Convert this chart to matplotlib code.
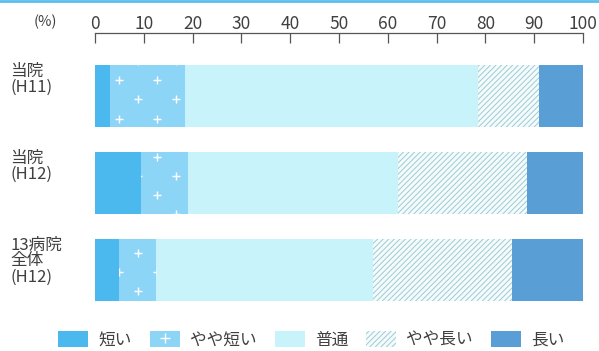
import numpy as np
import matplotlib
matplotlib.use("Agg")
import matplotlib.pyplot as plt
from matplotlib.patches import Patch
from matplotlib.lines import Line2D
from matplotlib.transforms import blended_transform_factory

plt.rcParams['font.family'] = ['Noto Sans CJK JP', 'DejaVu Sans']
plt.rcParams['hatch.linewidth'] = 0.7

groups = ["当院\n(H11)", "当院\n(H12)", "13病院\n全体\n(H12)"]
categories = ["短い", "やや短い", "普通", "やや長い", "長い"]
shares = {
    "短い":     [3.0, 9.5, 5.0],
    "やや短い": [15.5, 9.5, 7.5],
    "普通":     [60.0, 43.0, 44.5],
    "やや長い": [12.5, 26.5, 28.5],
    "長い":     [9.0, 11.5, 14.5],
}
ticks = list(range(0, 101, 10))

colors = {
    "短い": "#4cb9ee",
    "やや短い": "#8dd5f6",
    "普通": "#c9f3fb",
    "やや長い": "#f4fbfc",
    "長い": "#5a9ed6",
}
text_color = "#404040"
bar_h = 0.71

fig = plt.figure(figsize=(5.99, 3.51), dpi=100)
fig.patch.set_facecolor("white")
ax = fig.add_axes([95 / 599, 1 - 310 / 351, (583 - 95) / 599, (310 - 33) / 351])

ypos = np.arange(len(groups))
left = np.zeros(len(groups))
bars = {}
for cat in categories:
    vals = np.array(shares[cat])
    if cat == "やや長い":
        b = ax.barh(ypos, vals, left=left, height=bar_h, color=colors[cat],
                    edgecolor="#9fcad3", linewidth=0, hatch="//////")
    else:
        b = ax.barh(ypos, vals, left=left, height=bar_h, color=colors[cat],
                    linewidth=0)
    bars[cat] = b
    left += vals

# white "+" fill pattern for the やや短い segments
px, py = np.meshgrid(np.arange(-2, 24) * 7.8, np.arange(-4, 16) * 0.22)
px = px + (np.arange(-4, 16)[:, None] % 2) * 3.9
for rect in bars["やや短い"]:
    pts = ax.scatter(px.ravel() + 1.0, py.ravel() + 0.04, marker="+", s=34,
                     color="white", linewidths=1.0, zorder=3)
    pts.set_clip_path(rect)

ax.set_xlim(0, 100)
ax.set_ylim(2.46, -0.724)
ax.set_yticks([])
for side in ["right", "left", "bottom"]:
    ax.spines[side].set_visible(False)
ax.spines["top"].set_color("#555555")
ax.spines["top"].set_linewidth(0.9)
ax.xaxis.tick_top()
ax.set_xticks(ticks)
ax.tick_params(axis="x", direction="in", length=7, width=0.9, color="#555555",
               labelsize=12.5, labelcolor=text_color, pad=0)
ax.patch.set_alpha(0)

fig.text(45 / 599, 1 - 22 / 351, "(%)", ha="center", va="center", fontsize=10.5,
         color=text_color)

tr = blended_transform_factory(fig.transFigure, ax.transData)
for y, name in zip(ypos, groups):
    ax.text(10 / 599, y - bar_h / 2 - 0.03, name, transform=tr, ha="left",
            va="top", fontsize=12, color=text_color, linespacing=0.92)

# frame edge along the top
fig.add_artist(Line2D([0, 1], [0.996, 0.996], transform=fig.transFigure,
                      color="#5bbfee", linewidth=2))

handles = []
for cat in categories:
    if cat == "やや長い":
        p = Patch(facecolor=colors[cat], edgecolor="#9fcad3", linewidth=0,
                  hatch="//////")
    else:
        p = Patch(facecolor=colors[cat], linewidth=0)
    if cat == "やや短い":
        p = (p, Line2D([], [], marker="+", color="white", linestyle="none",
                       markersize=7, markeredgewidth=1.0))
    handles.append(p)
fig.legend(handles, categories, loc="center", bbox_to_anchor=(0.52, 1 - 340 / 351),
           ncol=5, frameon=False, fontsize=12, labelcolor=text_color,
           handlelength=1.8, handleheight=1.1, handletextpad=0.6,
           columnspacing=1.1, borderpad=0)

fig.savefig("out.png", dpi=100, facecolor="white")
